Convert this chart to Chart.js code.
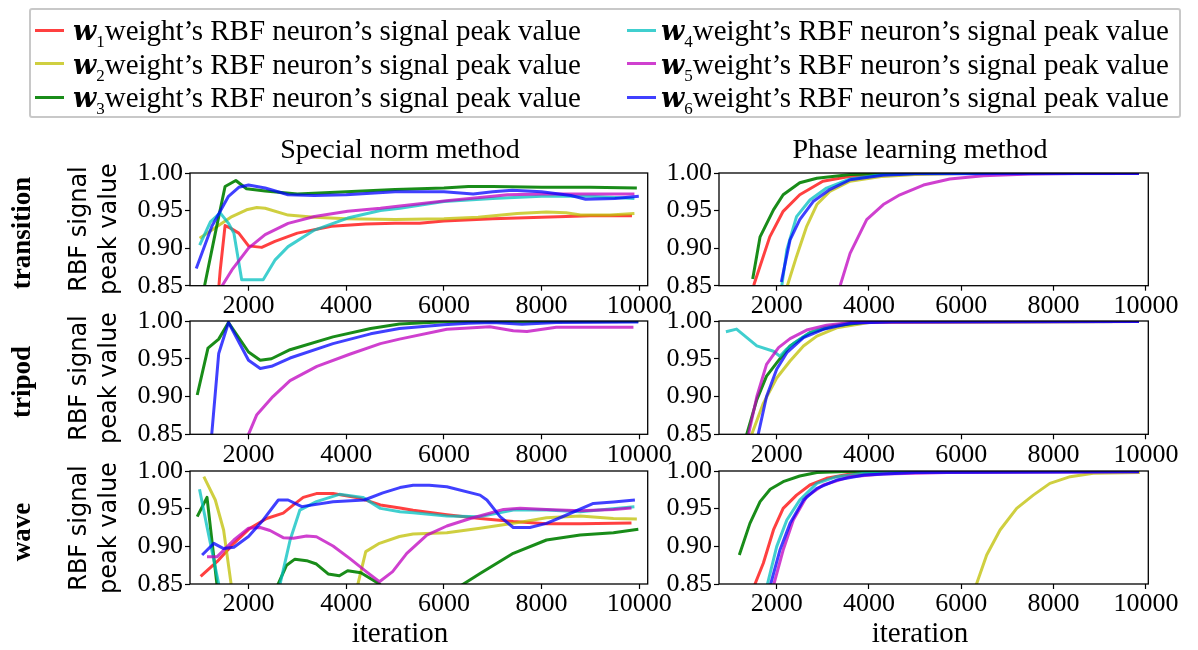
<!DOCTYPE html>
<html>
<head>
<meta charset="utf-8">
<title>RBF signal peak value</title>
<script src="https://cdn.jsdelivr.net/npm/chart.js@4.4.0/dist/chart.umd.min.js"></script>
<style>
  body { margin: 0; background: #fff; }
  #wrap { position: relative; width: 1198px; height: 650px; overflow: hidden;
          font-family: 'Liberation Serif', serif; color: #000; }
  #wrap canvas { position: absolute; left: 0; top: 0; }
  .txt { position: absolute; white-space: nowrap; transform: translate(-50%, -50%); line-height: 1.15; }
  .rot { transform: translate(-50%, -50%) rotate(-90deg); text-align: center; }
  #legend { position: absolute; left: 29px; top: 8px; width: 1148px; height: 106px;
            border: 2px solid #c8c8c8; border-radius: 3px; }
  .sw { position: absolute; width: 29px; height: 3px; }
  .lg { position: absolute; white-space: nowrap; font-size: 29px; transform: translateY(-50%); line-height: 1.2; }
  .lg .w { font-family: 'DejaVu Serif', serif; font-weight: bold; font-style: italic; font-size: 27px; }
  .lg sub { font-size: 17px; vertical-align: -7px; line-height: 0; }
</style>
</head>
<body>
<div id="wrap"></div>
<script>
// iterations on x, RBF signal peak value on y
const xTickValues = [2000, 4000, 6000, 8000, 10000];
const yTickValues = [0.85, 0.90, 0.95, 1.00];
const weightIds = ['1', '2', '3', '4', '5', '6'];
const lineColors = ['rgba(255,0,0,0.75)', 'rgba(191,191,0,0.75)', 'rgba(0,128,0,0.9)',
                    'rgba(0,191,191,0.75)', 'rgba(191,0,191,0.75)', 'rgba(0,0,255,0.75)'];
const rowNames = ['transition', 'tripod', 'wave'];
const methodNames = ['Special norm method', 'Phase learning method'];

// transition, special norm method
const transNormRed = [[1330,0.80],[1420,0.87],[1520,0.930],[1620,0.927],[1800,0.920],[2000,0.903],[2270,0.901],[2540,0.909],[3000,0.920],[3700,0.929],[4400,0.932],[5000,0.933],[5500,0.933],[6000,0.936],[7000,0.939],[8000,0.941],[9000,0.943],[9850,0.943]];
const transNormYellow = [[1000,0.913],[1250,0.924],[1660,0.942],[1960,0.951],[2170,0.954],[2340,0.953],[2810,0.944],[3350,0.941],[4000,0.939],[5000,0.938],[6000,0.939],[6700,0.941],[7500,0.946],[8100,0.948],[8500,0.947],[8800,0.944],[9400,0.944],[9900,0.946]];
const transNormGreen = [[1000,0.78],[1100,0.85],[1320,0.92],[1520,0.982],[1740,0.990],[1960,0.979],[2340,0.976],[3000,0.972],[4000,0.975],[5000,0.978],[6000,0.980],[6500,0.982],[7000,0.982],[8000,0.981],[9000,0.981],[9950,0.980]];
const transNormCyan = [[1000,0.904],[1220,0.935],[1420,0.947],[1590,0.933],[1700,0.920],[1860,0.858],[2300,0.858],[2540,0.884],[2810,0.902],[3350,0.924],[4030,0.940],[4700,0.950],[5100,0.953],[6000,0.962],[7000,0.966],[8000,0.969],[9000,0.969],[9900,0.966]];
const transNormMagenta = [[1400,0.82],[1460,0.85],[1660,0.871],[2000,0.900],[2340,0.918],[2810,0.933],[3350,0.942],[4030,0.949],[4700,0.953],[5100,0.956],[6050,0.963],[7000,0.969],[7300,0.971],[8000,0.972],[9000,0.972],[9900,0.972]];
const transNormBlue = [[930,0.873],[1250,0.929],[1590,0.969],[1800,0.981],[2000,0.984],[2340,0.980],[2810,0.971],[3350,0.970],[4000,0.971],[5000,0.975],[6000,0.975],[6600,0.972],[7000,0.975],[7400,0.977],[8000,0.975],[8600,0.970],[8900,0.965],[9500,0.966],[9990,0.969]];

// transition, phase learning method
const transPhaseRed = [[1450,0.82],[1510,0.852],[1850,0.915],[2140,0.949],[2500,0.971],[3000,0.989],[3600,0.9955],[4300,0.9987],[5000,0.9993],[9850,0.9993]];
const transPhaseYellow = [[2180,0.84],[2430,0.889],[2650,0.929],[2870,0.958],[3150,0.9755],[3590,0.989],[4300,0.9955],[5000,0.998],[6000,0.9992],[9850,0.9993]];
const transPhaseGreen = [[1480,0.859],[1640,0.915],[1930,0.951],[2140,0.971],[2500,0.987],[2870,0.993],[3600,0.998],[4500,0.9993],[9850,0.9993]];
const transPhaseCyan = [[2100,0.845],[2220,0.898],[2430,0.942],[2720,0.964],[3080,0.980],[3590,0.992],[4300,0.998],[5000,0.9993],[9850,0.9993]];
const transPhaseMagenta = [[3350,0.845],[3590,0.893],[3950,0.938],[4310,0.958],[4670,0.971],[5180,0.984],[5750,0.992],[6480,0.9964],[7500,0.9987],[8500,0.9992],[9850,0.9993]];
const transPhaseBlue = [[2100,0.855],[2290,0.911],[2500,0.938],[2790,0.962],[3150,0.978],[3590,0.991],[4300,0.997],[5000,0.999],[9850,0.9993]];

// tripod, special norm method
const tripodNormGreen = [[950,0.902],[1170,0.964],[1390,0.976],[1590,0.998],[2000,0.959],[2240,0.948],[2470,0.950],[2850,0.962],[3730,0.979],[4500,0.990],[5090,0.996],[6000,0.999],[9980,0.9993]];
const tripodNormMagenta = [[1950,0.83],[2000,0.85],[2170,0.876],[2500,0.900],[2850,0.921],[3400,0.940],[4070,0.956],[4700,0.970],[5090,0.976],[6060,0.989],[6940,0.9925],[7420,0.987],[7700,0.986],[8300,0.9916],[9880,0.9916]];
const tripodNormBlue = [[1180,0.80],[1390,0.957],[1590,0.998],[2000,0.948],[2240,0.937],[2470,0.940],[2850,0.951],[3730,0.970],[4500,0.983],[5090,0.990],[6000,0.995],[6500,0.997],[7000,0.998],[7600,0.9956],[8300,0.998],[9980,0.9987]];

// tripod, phase learning method
const tripodPhaseYellow = [[1400,0.82],[1460,0.85],[1710,0.891],[2000,0.9246],[2290,0.947],[2580,0.967],[2870,0.980],[3300,0.991],[4000,0.998],[9850,0.9993]];
const tripodPhaseGreen = [[1300,0.82],[1350,0.85],[1570,0.896],[1780,0.927],[2000,0.9445],[2290,0.967],[2720,0.9845],[3230,0.9934],[4000,0.999],[9850,0.9993]];
const tripodPhaseCyan = [[900,0.9858],[1130,0.9893],[1570,0.967],[1930,0.960],[2070,0.9534],[2200,0.962],[2400,0.972],[2700,0.984],[3000,0.991],[3500,0.997],[4000,0.999],[9850,0.9993]];
const tripodPhaseMagenta = [[1330,0.82],[1390,0.85],[1570,0.900],[1780,0.9426],[2040,0.9647],[2290,0.9766],[2650,0.988],[3080,0.9943],[3600,0.998],[9850,0.9993]];
const tripodPhaseBlue = [[1550,0.82],[1600,0.85],[1780,0.900],[2000,0.936],[2220,0.958],[2580,0.978],[3010,0.989],[3600,0.997],[4500,0.999],[9850,0.9993]];

// wave, special norm method
const waveNormRed = [[1020,0.860],[1360,0.880],[1700,0.904],[2030,0.924],[2370,0.937],[2710,0.944],[2920,0.955],[3120,0.965],[3390,0.970],[3730,0.970],[4270,0.964],[4700,0.955],[5100,0.951],[5370,0.948],[6060,0.942],[6740,0.937],[7420,0.933],[8100,0.930],[8790,0.930],[9840,0.931]];
const waveNormYellow = [[1085,0.9925],[1320,0.9615],[1490,0.9217],[1750,0.80],[4040,0.80],[4240,0.85],[4400,0.893],[4680,0.904],[5090,0.913],[5370,0.9164],[6060,0.918],[6740,0.924],[7420,0.9305],[8100,0.938],[8790,0.9403],[9470,0.937],[9950,0.9363]];
const waveNormGreen = [[950,0.9394],[1150,0.965],[1440,0.80],[2400,0.82],[2780,0.875],[2950,0.883],[3190,0.881],[3390,0.8765],[3630,0.8633],[3860,0.861],[4030,0.8677],[4300,0.865],[4680,0.85],[5000,0.83],[5900,0.83],[6400,0.85],[6740,0.864],[7420,0.8907],[8100,0.9084],[8790,0.915],[9470,0.918],[9980,0.9226]];
const waveNormCyan = [[997,0.9757],[1150,0.926],[1390,0.85],[1546,0.80],[2470,0.80],[2850,0.908],[3050,0.948],[3390,0.9593],[3860,0.969],[4340,0.965],[4700,0.9504],[5100,0.946],[5370,0.9447],[6060,0.9403],[6740,0.9394],[7420,0.9482],[8100,0.9482],[8790,0.946],[9900,0.9527]];
const waveNormMagenta = [[1150,0.8863],[1360,0.8863],[1700,0.9084],[2000,0.924],[2240,0.925],[2440,0.921],[2710,0.9115],[2920,0.9106],[3190,0.9137],[3390,0.9128],[3730,0.9004],[4070,0.884],[4410,0.8664],[4680,0.853],[4950,0.8664],[5240,0.8907],[5650,0.915],[6060,0.927],[6540,0.937],[6880,0.9429],[7220,0.949],[7560,0.9504],[8100,0.949],[8790,0.9473],[9470,0.949],[9840,0.9509]];
const waveNormBlue = [[1050,0.8885],[1290,0.904],[1490,0.897],[1700,0.8987],[2000,0.913],[2300,0.935],[2610,0.9615],[2810,0.9615],[3090,0.9527],[3730,0.9593],[4370,0.9615],[4750,0.971],[5100,0.978],[5370,0.981],[5700,0.981],[6060,0.979],[6740,0.968],[6880,0.9615],[7150,0.9394],[7420,0.925],[7760,0.925],[8100,0.9305],[8510,0.9416],[9060,0.957],[9470,0.959],[9910,0.9615]];

// wave, phase learning method
const wavePhaseRed = [[1450,0.82],[1530,0.85],[1710,0.8775],[1930,0.9217],[2140,0.9504],[2430,0.968],[2720,0.9814],[3080,0.9903],[3590,0.996],[4500,0.999],[9850,0.9993]];
const wavePhaseYellow = [[6250,0.82],[6330,0.85],[6550,0.8885],[6840,0.9217],[7200,0.9504],[7560,0.968],[7920,0.9836],[8360,0.9925],[8860,0.997],[9870,0.998]];
const wavePhaseGreen = [[1190,0.8885],[1420,0.9305],[1640,0.9593],[1860,0.9757],[2140,0.9858],[2500,0.9934],[2870,0.998],[3500,0.9993],[9850,0.9993]];
const wavePhaseCyan = [[1750,0.82],[1800,0.85],[2000,0.8996],[2220,0.935],[2500,0.9615],[2870,0.9836],[3300,0.9925],[3900,0.997],[5000,0.999],[9850,0.9993]];
const wavePhaseMagenta = [[1890,0.82],[1940,0.85],[2140,0.8951],[2360,0.935],[2650,0.966],[3010,0.9814],[3590,0.9925],[4310,0.996],[5700,0.998],[9850,0.999]];
const wavePhaseBlue = [[1820,0.82],[1870,0.85],[2070,0.8951],[2290,0.9305],[2580,0.9615],[2870,0.977],[3300,0.988],[3900,0.9947],[5000,0.998],[9850,0.999]];

const W = 1198, H = 650;
const colBox = [{l: 190, r: 647.7, xMin: 802, xMax: 10172}, {l: 719, r: 1148.3, xMin: 750, xMax: 10052}];
const rowBox = [{t: 173, b: 285.7}, {t: 321, b: 434.3}, {t: 471, b: 584}];
const YW = 60, XH = 40;
const tickFont = {family: 'Liberation Serif', size: 26};

// series index -> [red, yellow, green, cyan, magenta, blue]; null where no line is drawn
const panels = [
  [transNormRed, transNormYellow, transNormGreen, transNormCyan, transNormMagenta, transNormBlue],
  [transPhaseRed, transPhaseYellow, transPhaseGreen, transPhaseCyan, transPhaseMagenta, transPhaseBlue],
  [null, null, tripodNormGreen, null, tripodNormMagenta, tripodNormBlue],
  [null, tripodPhaseYellow, tripodPhaseGreen, tripodPhaseCyan, tripodPhaseMagenta, tripodPhaseBlue],
  [waveNormRed, waveNormYellow, waveNormGreen, waveNormCyan, waveNormMagenta, waveNormBlue],
  [wavePhaseRed, wavePhaseYellow, wavePhaseGreen, wavePhaseCyan, wavePhaseMagenta, wavePhaseBlue]
];

// black box round the plot area, like a matplotlib axes frame
const frame = {
  id: 'frame',
  afterDraw(chart) {
    const {ctx, chartArea: a} = chart;
    ctx.save();
    ctx.strokeStyle = '#000';
    ctx.lineWidth = 1.3;
    ctx.strokeRect(a.left, a.top, a.right - a.left, a.bottom - a.top);
    ctx.restore();
  }
};

const wrap = document.getElementById('wrap');

function makePanel(series, col, row) {
  const c = colBox[col], r = rowBox[row];
  const cnv = document.createElement('canvas');
  cnv.width = W; cnv.height = H;
  wrap.appendChild(cnv);
  const datasets = [];
  series.forEach((pts, i) => {
    if (!pts) return;
    datasets.push({
      data: pts.map(p => ({x: p[0], y: p[1]})),
      borderColor: lineColors[i],
      borderWidth: 3,
      pointRadius: 0,
      tension: 0,
      clip: 0,
      order: 6 - i,
      borderJoinStyle: 'round'
    });
  });
  const axisGrid = {drawOnChartArea: false, drawTicks: true, tickLength: 5, tickColor: '#000', tickWidth: 1.2};
  return new Chart(cnv, {
    type: 'line',
    data: {datasets},
    options: {
      responsive: false,
      animation: false,
      events: [],
      devicePixelRatio: 1,
      layout: {padding: {left: c.l - YW, top: r.t, right: W - c.r, bottom: H - r.b - XH}},
      plugins: {legend: {display: false}, tooltip: {enabled: false}},
      scales: {
        x: {
          type: 'linear', min: c.xMin, max: c.xMax,
          afterFit: s => { s.height = XH; },
          afterBuildTicks: s => { s.ticks = xTickValues.map(v => ({value: v})); },
          border: {display: false},
          grid: axisGrid,
          ticks: {autoSkip: false, maxRotation: 0, padding: 0, color: '#000', font: tickFont,
                  callback: v => String(v)}
        },
        y: {
          type: 'linear', min: 0.85, max: 1.0,
          afterFit: s => { s.width = YW; },
          afterBuildTicks: s => { s.ticks = yTickValues.map(v => ({value: v})); },
          border: {display: false},
          grid: axisGrid,
          ticks: {autoSkip: false, padding: 2, color: '#000', font: tickFont,
                  callback: v => v.toFixed(2)}
        }
      }
    },
    plugins: [frame]
  });
}

panels.forEach((series, k) => makePanel(series, k % 2, Math.floor(k / 2)));

function addText(text, x, y, css, cls) {
  const d = document.createElement('div');
  d.className = cls || 'txt';
  d.innerHTML = text;
  d.style.left = x + 'px';
  d.style.top = y + 'px';
  Object.assign(d.style, css || {});
  wrap.appendChild(d);
  return d;
}

// method titles and x-axis names
const colCenters = [400, 920];
methodNames.forEach((m, i) => addText(m, colCenters[i], 149, {fontSize: '28px'}));
colCenters.forEach(x => addText('iteration', x, 633, {fontSize: '29px'}));

// row names and y-axis names
rowNames.forEach((name, i) => {
  const yc = (rowBox[i].t + rowBox[i].b) / 2;
  addText(name, 22, yc + 4, {fontSize: '27px', fontWeight: 'bold'}, 'txt rot');
  addText('RBF signal<br>peak value', 93, yc,
          {fontSize: '24px', fontFamily: "'DejaVu Sans', sans-serif", lineHeight: '30px'}, 'txt rot');
});

// legend
const legend = document.createElement('div');
legend.id = 'legend';
wrap.appendChild(legend);
const legendRows = [30, 63.5, 97];
weightIds.forEach((id, i) => {
  const col = i < 3 ? 0 : 1, y = legendRows[i % 3];
  const sw = document.createElement('div');
  sw.className = 'sw';
  sw.style.left = (col ? 627 : 35) + 'px';
  sw.style.top = (y - 1.5) + 'px';
  sw.style.background = lineColors[i];
  wrap.appendChild(sw);
  const t = document.createElement('div');
  t.className = 'lg';
  t.style.left = (col ? 661 : 73) + 'px';
  t.style.top = y + 'px';
  t.innerHTML = '<span class="w">w</span><sub>' + id + '</sub>weight\u2019s RBF neuron\u2019s signal peak value';
  wrap.appendChild(t);
});
</script>
</body>
</html>
